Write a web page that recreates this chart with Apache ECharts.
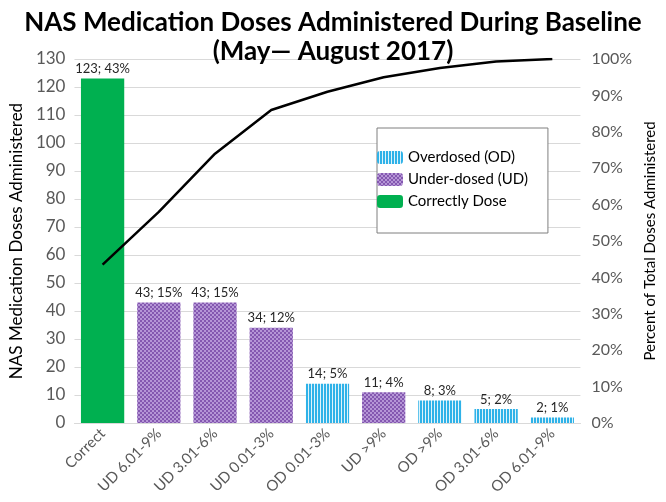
<!DOCTYPE html>
<html><head><meta charset="utf-8">
<script src="https://cdn.jsdelivr.net/npm/echarts@6/dist/echarts.min.js"></script>
<style>html,body{margin:0;padding:0;background:#fff}#c{width:666px;height:502px}</style>
</head><body><div id="c"></div>
<script>
var categories = ['Correct','UD 6.01-9%','UD 3.01-6%','UD 0.01-3%','OD 0.01-3%','UD >9%','OD >9%','OD 3.01-6%','OD 6.01-9%'];
var doses = [123,43,43,34,14,11,8,5,2];
var percents = [43,15,15,12,5,4,3,2,1];
var groups = ['C','UD','UD','UD','OD','UD','OD','OD','OD'];
var cumulative = [43.5,58,74,86,91,95,97.5,99.3,100];
var leftTicks = {min:0,max:130,interval:10};
var rightTicks = {min:0,max:100,interval:10};

function pattern(type){
  var c = document.createElement('canvas');
  var ctx = c.getContext('2d');
  if(type==='UD'){
    c.width=4;c.height=4;
    ctx.fillStyle='#b596d6';ctx.fillRect(0,0,4,4);
    ctx.fillStyle='#8458b0';
    ctx.fillRect(0,0,2,2);ctx.fillRect(2,2,2,2);
  } else {
    c.width=3;c.height=3;
    ctx.fillStyle='#dff3fb';ctx.fillRect(0,0,3,3);
    ctx.fillStyle='#2fb2e8';ctx.fillRect(0,0,2,3);
  }
  return {image:c,repeat:'repeat'};
}
var colors = {OD:pattern('OD'),UD:pattern('UD'),C:'#00b050'};
function seriesFor(g,name){
  return {
    name:name,type:'bar',stack:'s',barWidth:'77%',
    itemStyle:{color:colors[g]},
    data:doses.map(function(v,i){return groups[i]===g?v:'-';}),
    label:{show:true,position:'top',distance:3,color:'#262626',fontSize:13,fontFamily:'Lato',
      formatter:function(p){return doses[p.dataIndex]+'; '+percents[p.dataIndex]+'%';}}
  };
}
var chart = echarts.init(document.getElementById('c'));
var font='Lato';
chart.setOption({
  animation:false,
  title:{text:'NAS Medication Doses Administered During Baseline\n(May\u2014 August 2017)',left:'center',top:3,
    textStyle:{fontFamily:font,fontWeight:'bold',fontSize:26,color:'#000',lineHeight:29}},
  legend:{orient:'vertical',left:377,top:128,itemWidth:26,itemHeight:13,itemGap:7,
    padding:[22,20,24,0],borderColor:'#7f7f7f',borderWidth:1,backgroundColor:'#fff',
    textStyle:{fontFamily:font,fontSize:15,color:'#000'},
    data:['Overdosed (OD)','Under-dosed (UD)','Correctly Dose']},
  grid:{left:64,right:79,top:59,bottom:79,containLabel:false},
  xAxis:{type:'category',data:categories,
    axisLine:{lineStyle:{color:'#d9d9d9',width:1}},axisTick:{show:false},
    axisLabel:{rotate:45,fontFamily:font,fontSize:15,color:'#595959',interval:0,margin:8}},
  yAxis:[
    {type:'value',min:leftTicks.min,max:leftTicks.max,interval:leftTicks.interval,
     name:'NAS Medication Doses Administered',nameLocation:'middle',nameGap:41,
     nameTextStyle:{fontFamily:font,fontSize:17,color:'#000'},
     axisLabel:{fontFamily:font,fontSize:17,color:'#595959',margin:9},
     splitLine:{lineStyle:{color:'#d9d9d9'}},axisLine:{show:false},axisTick:{show:false}},
    {type:'value',min:rightTicks.min,max:rightTicks.max,interval:rightTicks.interval,position:'right',
     name:'Percent of Total Doses Administered',nameLocation:'middle',nameGap:62,nameRotate:90,
     nameTextStyle:{fontFamily:font,fontSize:15,color:'#000'},
     axisLabel:{fontFamily:font,fontSize:16,color:'#595959',margin:11,formatter:'{value}%'},
     splitLine:{show:false},axisLine:{show:false},axisTick:{show:false}}
  ],
  series:[
    seriesFor('OD','Overdosed (OD)'),
    seriesFor('UD','Under-dosed (UD)'),
    seriesFor('C','Correctly Dose'),
    {name:'Cumulative',type:'line',yAxisIndex:1,data:cumulative,symbol:'none',z:10,
     lineStyle:{color:'#000',width:2.5}}
  ]
});
</script></body></html>
